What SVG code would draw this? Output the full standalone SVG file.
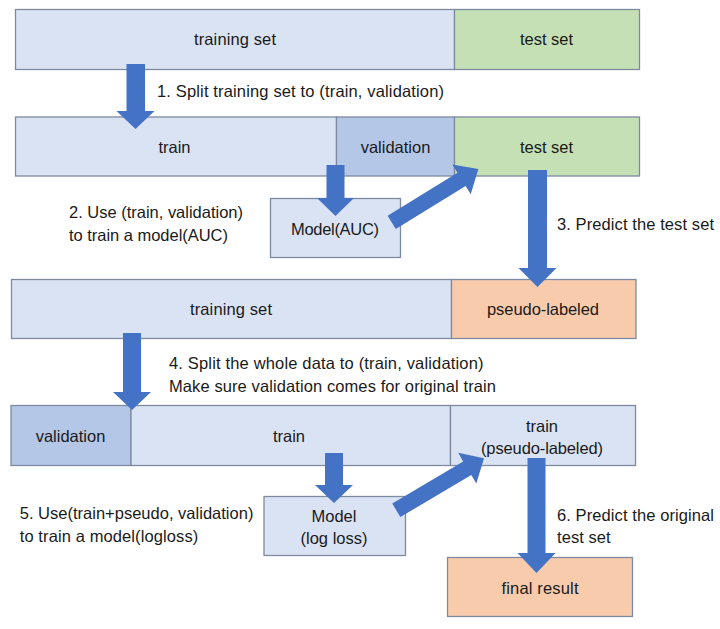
<svg xmlns="http://www.w3.org/2000/svg" width="720" height="629" viewBox="0 0 720 629">
<style>
.box{stroke:#7d8aa0;stroke-width:1.3}
.lt{fill:#dae3f3}
.vd{fill:#b4c7e7}
.gr{fill:#c5e0b4}
.or{fill:#f8cbad}
text{font-family:"Liberation Sans",Arial,sans-serif;font-size:16.5px;fill:#1a1a1a}
.c{text-anchor:middle}
.arr{fill:#4472c4}
</style>
<rect width="720" height="629" fill="#ffffff"/>
<g id="row1-training">
<rect class="box lt" x="15.5" y="9.5" width="439" height="60"/>
<text class="c" x="235" y="45" textLength="82">training set</text>
</g>
<g id="row1-test">
<rect class="box gr" x="454.5" y="9.5" width="185" height="60"/>
<text class="c" x="546.5" y="45" textLength="53">test set</text>
</g>
<g id="row2-train">
<rect class="box lt" x="15.5" y="117" width="321" height="59"/>
<text class="c" x="174.5" y="152.5">train</text>
</g>
<g id="row2-validation">
<rect class="box vd" x="336.5" y="117" width="118" height="59"/>
<text class="c" x="395.5" y="152.5">validation</text>
</g>
<g id="row2-test">
<rect class="box gr" x="454.5" y="117" width="185" height="59"/>
<text class="c" x="546.5" y="152.5" textLength="53">test set</text>
</g>
<g id="model-auc">
<rect class="box lt" x="270.5" y="198.5" width="130" height="59"/>
<text class="c" x="335" y="235" textLength="88">Model(AUC)</text>
</g>
<g id="row3-training">
<rect class="box lt" x="11.5" y="279.5" width="440" height="59"/>
<text class="c" x="231" y="315" textLength="82">training set</text>
</g>
<g id="row3-pseudo">
<rect class="box or" x="451.5" y="279.5" width="184.5" height="59"/>
<text class="c" x="543" y="315" textLength="112">pseudo-labeled</text>
</g>
<g id="row4-validation">
<rect class="box vd" x="11" y="405.5" width="120" height="60"/>
<text class="c" x="70.5" y="441.5">validation</text>
</g>
<g id="row4-train">
<rect class="box lt" x="131" y="405.5" width="319.5" height="60"/>
<text class="c" x="289" y="441.5">train</text>
</g>
<g id="row4-train-pseudo">
<rect class="box lt" x="450.5" y="405.5" width="185" height="60"/>
<text class="c" x="542" y="431.5">train</text>
<text class="c" x="542" y="453.5" textLength="122">(pseudo-labeled)</text>
</g>
<g id="model-logloss">
<rect class="box lt" x="264" y="496.5" width="141.5" height="59"/>
<text class="c" x="334" y="522">Model</text>
<text class="c" x="334" y="544">(log loss)</text>
</g>
<g id="final-result">
<rect class="box or" x="447.5" y="557.5" width="185" height="59"/>
<text class="c" x="540" y="594" textLength="77">final result</text>
</g>
<g id="connectors">
<polygon class="arr" points="126.5,64 145,64 145,111 154.5,111 135.5,129 116.5,111 126.5,111"/>
<polygon class="arr" points="326.5,165 344.5,165 344.5,198 354,198 335.5,216 317,198 326.5,198"/>
<polygon class="arr" transform="translate(391.7,222.3) rotate(-31.6)" points="0,-7.75 82,-7.75 82,-17.5 101.7,0 82,17.5 82,7.75 0,7.75"/>
<polygon class="arr" points="528,170 547,170 547,268 556.5,268 537.5,287 518.5,268 528,268"/>
<polygon class="arr" points="123,333 141,333 141,392 151,392 132,410 113,392 123,392"/>
<polygon class="arr" points="325,453 343,453 343,485 353,485 334,503 315,485 325,485"/>
<polygon class="arr" transform="translate(396.3,510.3) rotate(-30.7)" points="0,-7.9 82.5,-7.9 82.5,-17.8 102,0 82.5,17.8 82.5,7.9 0,7.9"/>
<polygon class="arr" points="527.5,458 545.5,458 545.5,553 555.5,553 536.5,573 517.5,553 527.5,553"/>
</g>
<g id="labels">
<text x="157" y="97" textLength="287">1. Split training set to (train, validation)</text>
<text x="69" y="218" textLength="174">2. Use (train, validation)</text>
<text x="69" y="240.5" textLength="159">to train a model(AUC)</text>
<text x="557" y="229.5" textLength="157">3. Predict the test set</text>
<text x="169" y="369" textLength="314.5">4. Split the whole data to (train, validation)</text>
<text x="169" y="391.5" textLength="327">Make sure validation comes for original train</text>
<text x="19.7" y="519" textLength="233.7">5. Use(train+pseudo, validation)</text>
<text x="19.7" y="541.5" textLength="178.6">to train a model(logloss)</text>
<text x="557" y="520.5" textLength="157">6. Predict the original</text>
<text x="557" y="543" textLength="53.6">test set</text>
</g>
</svg>
